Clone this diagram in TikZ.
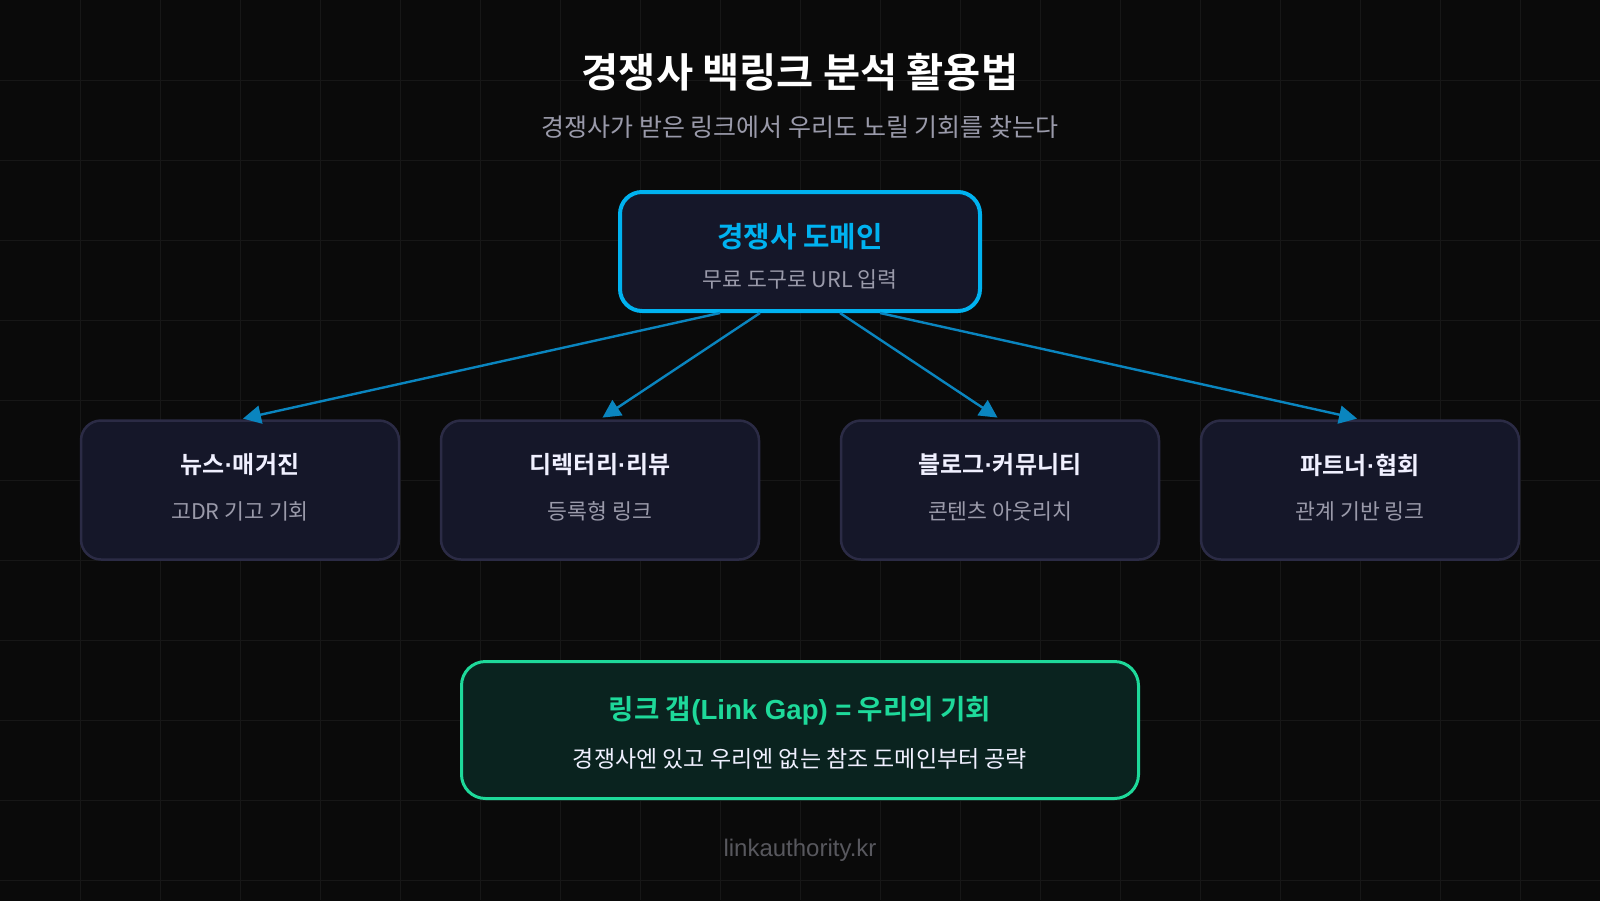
\documentclass[tikz,border=0pt]{standalone}
\usepackage{fontspec}
\setmainfont{Noto Sans CJK KR}[BoldFont={Noto Sans CJK KR Bold}]
\newfontfamily\footfont{Liberation Sans}
\usetikzlibrary{arrows.meta}

\definecolor{bgdark}{HTML}{0A0A0A}
\definecolor{gridline}{HTML}{171717}
\definecolor{subgray}{HTML}{9A9AAA}
\definecolor{domblue}{HTML}{00B2F0}
\definecolor{cardfill}{HTML}{151729}
\definecolor{cardline}{HTML}{2B2B45}
\definecolor{arrowblue}{HTML}{0A85BF}
\definecolor{gapgreen}{HTML}{1ED99A}
\definecolor{gapfill}{HTML}{0A231F}
\definecolor{footgray}{HTML}{58585E}

\newcommand{\middot}{{\footfont·}}

\begin{document}
\begin{tikzpicture}[x=0.5pt, y=-0.5pt,
    card/.style={draw=cardline, fill=cardfill, line width=1.25pt, rounded corners=10pt,
                 minimum width=159pt, minimum height=69.5pt},
    domainbox/.style={draw=domblue, fill=cardfill, line width=2pt, rounded corners=11pt,
                   minimum width=180pt, minimum height=59.5pt},
    gapbox/.style={draw=gapgreen, fill=gapfill, line width=1.5pt, rounded corners=12pt,
                   minimum width=338.5pt, minimum height=68.5pt},
    cardtitle/.style={text=white!94!blue, font=\bfseries\fontsize{12}{14}\selectfont},
    cardsub/.style={text=subgray, font=\fontsize{10.8}{13}\selectfont},
    link/.style={draw=arrowblue, line width=1.2pt, -{Triangle[length=9pt,width=9pt]}, shorten >=1.5pt}]

  % background and grid
  \useasboundingbox (0,0) rectangle (1600,900);
  \fill[bgdark] (-10,-10) rectangle (1610,910);
  \foreach \gx in {80,160,...,1520} \draw[gridline, line width=0.5pt] (\gx,0) -- (\gx,900);
  \foreach \gy in {80,160,...,880} \draw[gridline, line width=0.5pt] (0,\gy) -- (1600,\gy);

  % title
  \node (title) at (800,72) {\color{white}\bfseries\fontsize{20.2}{24}\selectfont 경쟁사 백링크 분석 활용법};
  \node (subtitle) at (800,127) {\color{subgray}\fontsize{12.5}{15}\selectfont 경쟁사가 받은 링크에서 우리도 노릴 기회를 찾는다};

  % competitor domain
  \node[domainbox] (dom) at (800,251.5) {};
  \node[text=domblue, font=\bfseries\fontsize{14.4}{17}\selectfont] (domtitle) at (800,237) {경쟁사 도메인};
  \node[cardsub] (domsub) at (800,279) {무료 도구로 URL 입력};

  % link sources
  \node[card] (news) at (240,490) {};
  \node[card] (dir) at (600,490) {};
  \node[card] (blog) at (1000,490) {};
  \node[card] (partner) at (1360,490) {};

  \node[cardtitle] (newst) at (240,465) {뉴스\middot 매거진};
  \node[cardsub] (newss) at (240,511) {고DR 기고 기회};
  \node[cardtitle] (dirt) at (600,465) {디렉터리\middot 리뷰};
  \node[cardsub] (dirs) at (600,511) {등록형 링크};
  \node[cardtitle] (blogt) at (1000,465) {블로그\middot 커뮤니티};
  \node[cardsub] (blogs) at (1000,511) {콘텐츠 아웃리치};
  \node[cardtitle] (partnert) at (1360,465) {파트너\middot 협회};
  \node[cardsub] (partners) at (1360,511) {관계 기반 링크};

  \draw[link] ([xshift=-40pt]dom.south) -- (news.north);
  \draw[link] ([xshift=-20pt]dom.south) -- (dir.north);
  \draw[link] ([xshift=20pt]dom.south) -- (blog.north);
  \draw[link] ([xshift=40pt]dom.south) -- (partner.north);

  % link gap
  \node[gapbox] (gap) at (800,730) {};
  \node[text=gapgreen, font=\bfseries\fontsize{13.8}{16}\selectfont] (gapt) at (800,711) {링크 갭{\footfont(Link Gap) =} 우리의 기회};
  \node[text=white!94!blue, font=\fontsize{11.5}{14}\selectfont] (gaps) at (800,759) {경쟁사엔 있고 우리엔 없는 참조 도메인부터 공략};

  \node[text=footgray, font=\footfont\fontsize{12}{14}\selectfont] (footer) at (800,850) {linkauthority.kr};
\end{tikzpicture}
\end{document}
